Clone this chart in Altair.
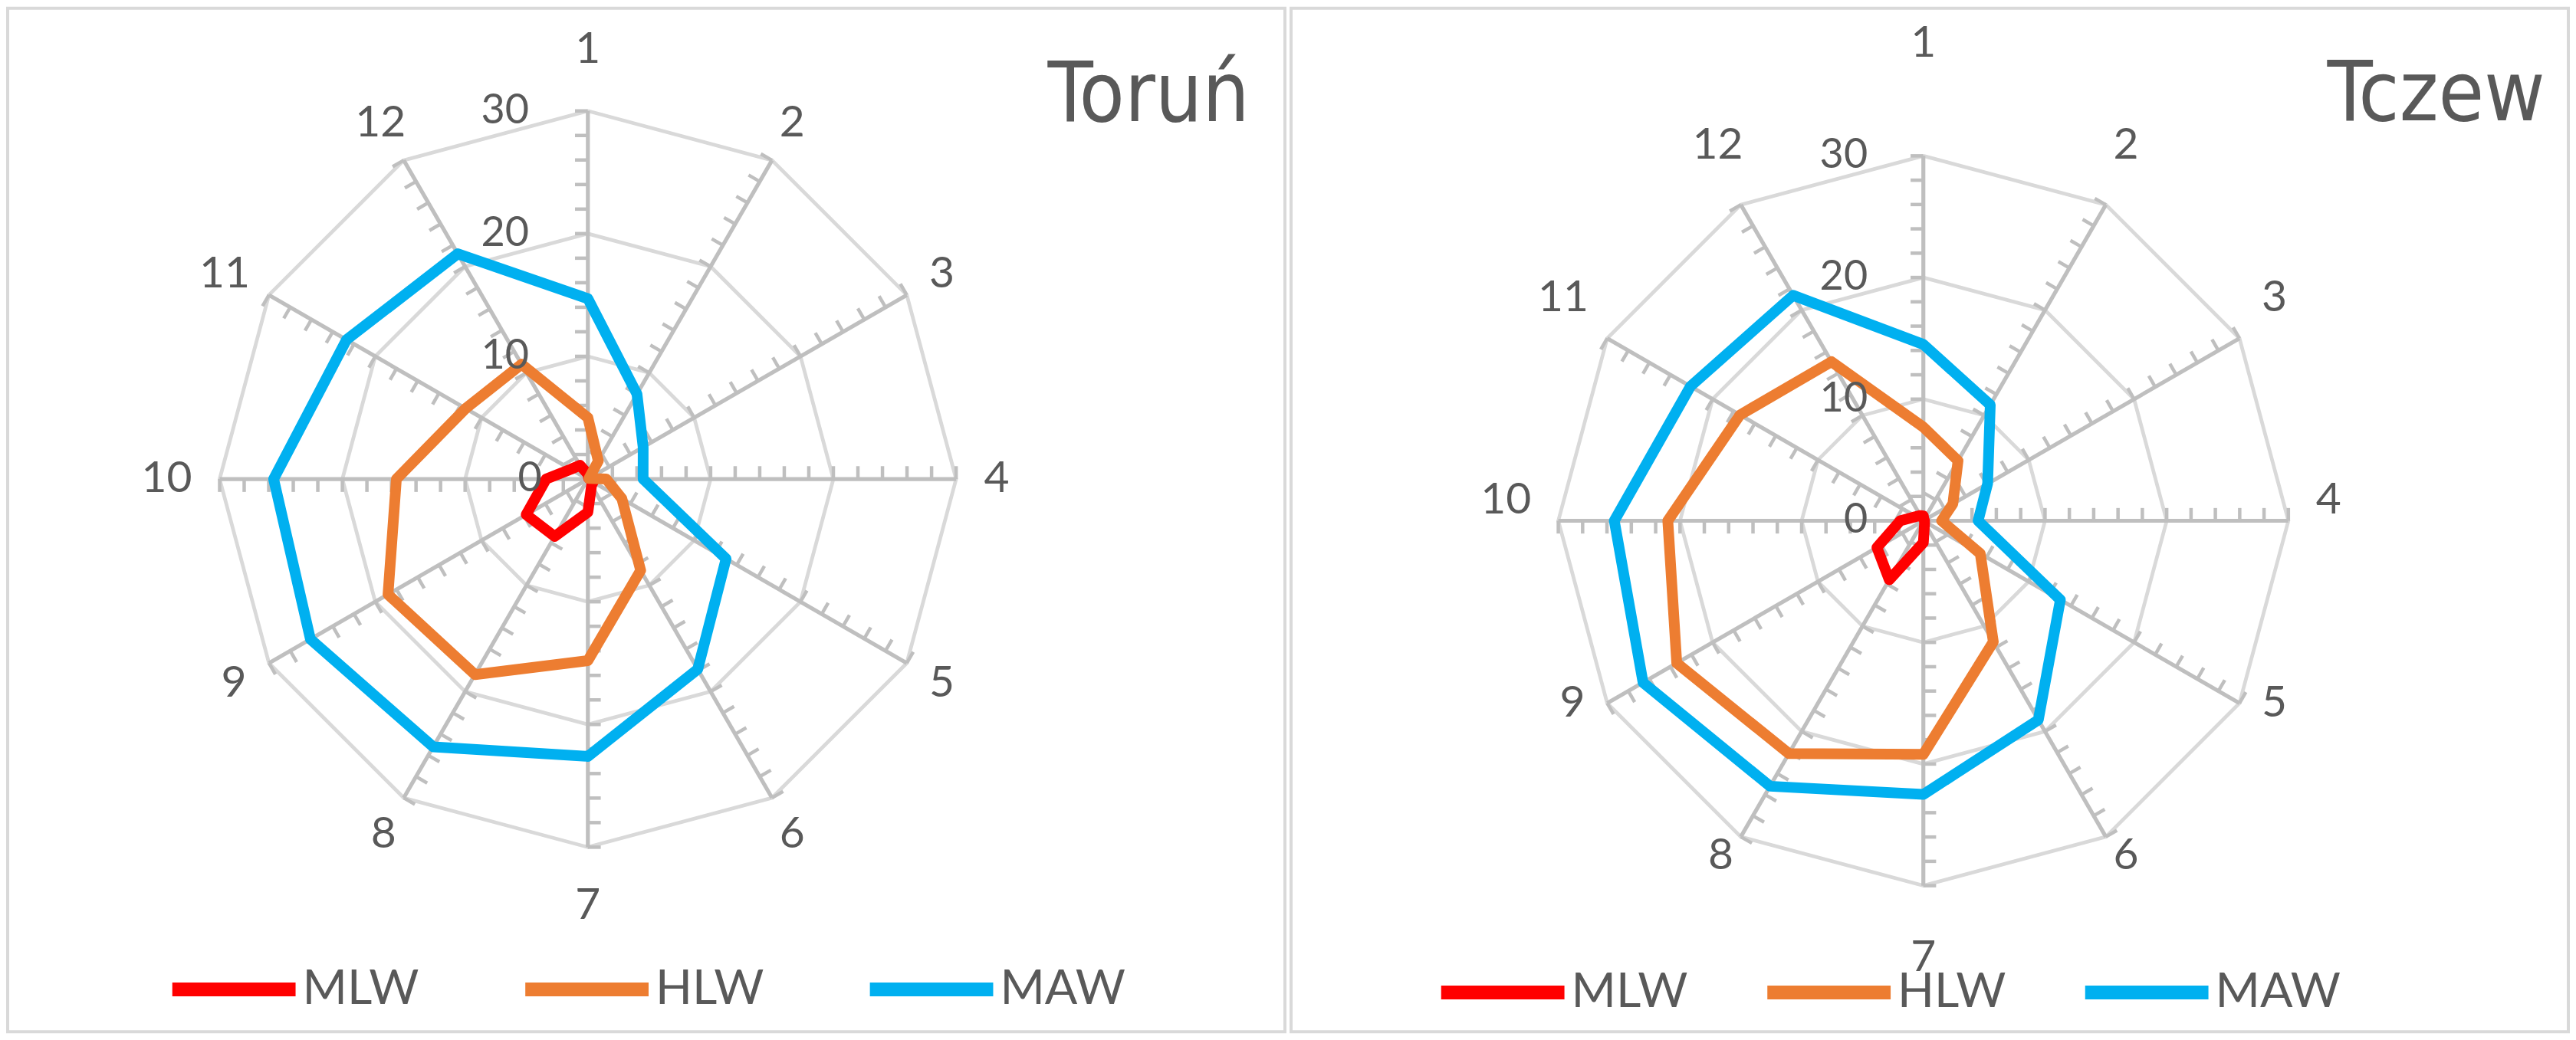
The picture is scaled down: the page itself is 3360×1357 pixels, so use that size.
import math
import altair as alt
import pandas as pd

# ---------------- data ----------------
months = [str(i) for i in range(1, 13)]
series_names = ["MLW", "HLW", "MAW"]
series_colors = ["#FF0000", "#ED7D31", "#00B0F0"]

torun_mlw = [0.4, 0.1, 0.1, 0.3, 0.5, 0.6, 2.7, 5.4, 5.8, 3.4, 1.6, 1.3]
torun_hlw = [5.0, 1.7, 0.1, 1.5, 3.2, 8.6, 14.8, 18.4, 18.8, 15.6, 11.5, 10.8]
torun_maw = [14.7, 8.0, 5.2, 4.5, 13.0, 17.9, 22.6, 25.2, 26.1, 25.6, 22.7, 21.2]

tczew_mlw = [0.4, 0.1, 0.1, 0.1, 0.1, 0.2, 1.8, 5.6, 4.4, 1.9, 0.7, 0.5]
tczew_hlw = [7.7, 5.7, 2.8, 1.5, 5.4, 11.5, 19.2, 22.1, 23.4, 21.0, 17.4, 15.1]
tczew_maw = [14.5, 11.0, 6.1, 4.5, 13.0, 18.9, 22.5, 25.2, 26.6, 25.4, 22.1, 21.4]

grid_levels = [10, 20, 30]
tick_values = list(range(2, 31, 2))
radial_labels = ["0", "10", "20", "30"]
r_max = 30

TEXT = "#595959"
FONT = "Lato"
TITLE_FONT = "'DejaVu Sans Condensed', 'Roboto Condensed', 'Liberation Sans', sans-serif"
W, H = 1668, 1337


def ang(i):
    return math.radians(i * 30.0)


def panel(title, mlw, hlw, maw, geo):
    cx, cy, ppu = geo["cx"], geo["cy"], geo["ppu"]
    xs = alt.Scale(domain=[-cx / ppu, (W - cx) / ppu], nice=False, zero=False)
    ys = alt.Scale(domain=[-(H - cy) / ppu, cy / ppu], nice=False, zero=False)

    def X(f="x"):
        return alt.X(f + ":Q", scale=xs, axis=None)

    def Y(f="y"):
        return alt.Y(f + ":Q", scale=ys, axis=None)

    # rings
    rows = []
    for lv in grid_levels:
        for i in range(13):
            a = ang(i % 12)
            rows.append({"lv": lv, "idx": i, "x": lv * math.sin(a), "y": lv * math.cos(a)})
    rings = alt.Chart(pd.DataFrame(rows)).mark_line(
        color="#D9D9D9", strokeWidth=4.8, strokeJoin="miter"
    ).encode(x=X(), y=Y(), detail="lv:N", order="idx:Q")

    # spokes
    rows = []
    for i in range(12):
        a = ang(i)
        rows.append({"x": 0.0, "y": 0.0, "x2": r_max * math.sin(a), "y2": r_max * math.cos(a)})
    spokes = alt.Chart(pd.DataFrame(rows)).mark_rule(color="#BFBFBF", strokeWidth=5.2).encode(
        x=X(), y=Y(), x2="x2:Q", y2="y2:Q"
    )

    # ticks (counter-clockwise side of each spoke)
    L = 1.05
    rows = []
    for i in range(12):
        a = ang(i)
        for v in tick_values:
            px, py = v * math.sin(a), v * math.cos(a)
            rows.append({"x": px, "y": py, "x2": px - L * math.cos(a), "y2": py + L * math.sin(a)})
    ticks = alt.Chart(pd.DataFrame(rows)).mark_rule(color="#BFBFBF", strokeWidth=4.5).encode(
        x=X(), y=Y(), x2="x2:Q", y2="y2:Q"
    )

    # series
    rows = []
    for name, vals in zip(series_names, [mlw, hlw, maw]):
        for i in range(13):
            a = ang(i % 12)
            r = vals[i % 12]
            rows.append({"series": name, "idx": i, "x": r * math.sin(a), "y": r * math.cos(a)})
    sdf = pd.DataFrame(rows)
    color = alt.Color(
        "series:N",
        scale=alt.Scale(domain=series_names, range=series_colors),
        legend=alt.Legend(
            title=None,
            orient="none",
            direction="horizontal",
            legendX=geo["lx"],
            legendY=geo["ly"],
            symbolType="stroke",
            symbolSize=161 * 161,
            symbolStrokeWidth=18,
            labelFontSize=63,
            labelFont=FONT,
            labelColor=TEXT,
            labelOffset=0,
            columnPadding=geo["colpad"],
            padding=0,
            labelLimit=500,
        ),
    )
    series_layers = []
    for name in series_names:
        series_layers.append(
            alt.Chart(sdf)
            .transform_filter(alt.datum.series == name)
            .mark_line(strokeWidth=14, strokeJoin="round", strokeCap="round")
            .encode(x=X(), y=Y(), color=color, order="idx:Q")
        )

    # radial value labels
    rows = []
    for lab in radial_labels:
        off = geo["rl_off1"] if len(lab) == 1 else geo["rl_off2"]
        rows.append({"t": lab, "x": -off, "y": float(lab)})
    rlabels = alt.Chart(pd.DataFrame(rows)).mark_text(
        align="right", baseline="middle", font=FONT, fontSize=54, color=TEXT
    ).encode(x=X(), y=Y(), text="t:N")

    # month labels
    rows = []
    R0 = 33.3
    for i, m in enumerate(months):
        a = ang(i)
        s, c = math.sin(a), math.cos(a)
        ex = 1.0 * (len(m) - 1) * abs(s)
        ey = (geo["top_ex"] if c > 0 else geo["bot_ex"]) * (abs(c) ** 16)
        rows.append({"t": m, "x": s * (R0 + ex), "y": c * (R0 + ey) + geo["shift"]})
    mlabels = alt.Chart(pd.DataFrame(rows)).mark_text(
        align="center", baseline="middle", font=FONT, fontSize=57, color=TEXT
    ).encode(x=X(), y=Y(), text="t:N")

    # title
    tlabel = alt.Chart(pd.DataFrame([{"t": title, "x": geo["tx"], "y": geo["ty"]}])).mark_text(
        align="right", baseline="alphabetic", font=TITLE_FONT, fontSize=108, color=TEXT
    ).encode(x=X(), y=Y(), text="t:N")

    return alt.layer(rings, spokes, ticks, *series_layers, rlabels, mlabels, tlabel).properties(
        width=W, height=H
    )


geo_torun = dict(cx=757.7, cy=615.0, ppu=16.03, lx=206, ly=1192, colpad=102,
                 rl_off1=3.75, rl_off2=4.8, top_ex=1.7, bot_ex=1.5, shift=0.0,
                 tx=53.9, ty=29.2)
geo_tczew = dict(cx=825.7, cy=669.5, ppu=15.89, lx=187, ly=1196, colpad=67,
                 rl_off1=4.57, rl_off2=4.57, top_ex=4.3, bot_ex=4.3, shift=1.64,
                 tx=51.1, ty=32.9)

left = panel("Toruń", torun_mlw, torun_hlw, torun_maw, geo_torun)
right = panel("Tczew", tczew_mlw, tczew_hlw, tczew_maw, geo_tczew)

chart = (
    alt.hconcat(left, right, spacing=4)
    .resolve_scale(x="independent", y="independent", color="independent")
    .resolve_legend(color="independent")
    .configure(padding=0, background="white")
    .configure_view(stroke="#D9D9D9", strokeWidth=4)
)

chart.save("out.html", embed_options={"renderer": "svg", "actions": False})
